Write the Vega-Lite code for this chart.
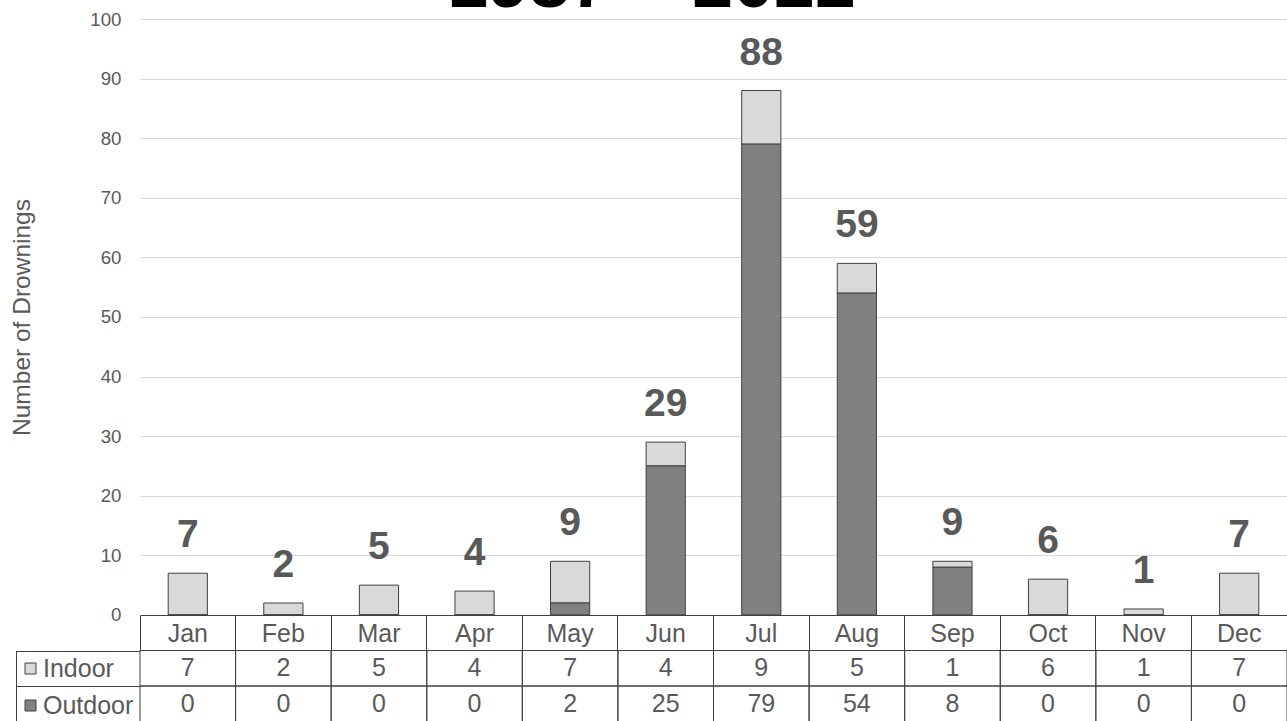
{
  "$schema": "https://vega.github.io/schema/vega-lite/v6.json",
  "width": 1147,
  "height": 702,
  "autosize": {"type": "none"},
  "padding": {"left": 140, "top": 19, "right": 0, "bottom": 0},
  "background": "white",
  "config": {"font": "Liberation Sans", "view": {"stroke": null}},
  "title": {"text": "1987 – 2022", "fontSize": 73.5, "fontWeight": "bold", "color": "#000000", "anchor": "middle", "frame": "group", "offset": -12, "dx": -62},
  "data": {
    "values": [
      {"month": "Jan", "type": "Indoor", "count": 7},
      {"month": "Feb", "type": "Indoor", "count": 2},
      {"month": "Mar", "type": "Indoor", "count": 5},
      {"month": "Apr", "type": "Indoor", "count": 4},
      {"month": "May", "type": "Indoor", "count": 7},
      {"month": "Jun", "type": "Indoor", "count": 4},
      {"month": "Jul", "type": "Indoor", "count": 9},
      {"month": "Aug", "type": "Indoor", "count": 5},
      {"month": "Sep", "type": "Indoor", "count": 1},
      {"month": "Oct", "type": "Indoor", "count": 6},
      {"month": "Nov", "type": "Indoor", "count": 1},
      {"month": "Dec", "type": "Indoor", "count": 7},
      {"month": "Jan", "type": "Outdoor", "count": 0},
      {"month": "Feb", "type": "Outdoor", "count": 0},
      {"month": "Mar", "type": "Outdoor", "count": 0},
      {"month": "Apr", "type": "Outdoor", "count": 0},
      {"month": "May", "type": "Outdoor", "count": 2},
      {"month": "Jun", "type": "Outdoor", "count": 25},
      {"month": "Jul", "type": "Outdoor", "count": 79},
      {"month": "Aug", "type": "Outdoor", "count": 54},
      {"month": "Sep", "type": "Outdoor", "count": 8},
      {"month": "Oct", "type": "Outdoor", "count": 0},
      {"month": "Nov", "type": "Outdoor", "count": 0},
      {"month": "Dec", "type": "Outdoor", "count": 0}
    ]
  },
  "layer": [
    {
      "mark": {"type": "bar", "width": {"band": 0.41}, "stroke": "#404040", "strokeWidth": 1},
      "encoding": {
        "x": {
          "field": "month", "type": "nominal",
          "scale": {"domain": ["Jan","Feb","Mar","Apr","May","Jun","Jul","Aug","Sep","Oct","Nov","Dec"], "paddingInner": 0, "paddingOuter": 0},
          "axis": {"orient": "bottom", "offset": -106, "title": null, "grid": false, "domainColor": "#404040", "domainWidth": 1, "ticks": true, "tickSize": 35.5, "tickColor": "#404040", "tickWidth": 1, "bandPosition": 0, "labelFontSize": 25, "labelColor": "#595959", "labelBaseline": "alphabetic", "labelPadding": -9.5, "labelAngle": 0}
        },
        "y": {
          "field": "count", "type": "quantitative",
          "scale": {"domain": [-17.8, 100], "nice": false, "zero": false},
          "axis": {"orient": "left", "values": [0,10,20,30,40,50,60,70,80,90,100], "grid": true, "gridColor": "#d9d9d9", "gridWidth": 1, "domain": false, "ticks": false, "labelFontSize": 18.67, "labelColor": "#595959", "labelPadding": 19, "title": "Number of Drownings", "titleFontSize": 24.5, "titleFontWeight": "normal", "titleColor": "#595959", "titleX": -110.5, "titleY": 298, "titleAngle": -90, "titleAlign": "center", "titleBaseline": "alphabetic"}
        },
        "color": {
          "field": "type", "type": "nominal",
          "scale": {"domain": ["Indoor", "Outdoor"], "range": ["#d9d9d9", "#808080"]},
          "legend": {"title": null, "orient": "none", "legendX": -122, "legendY": 637, "direction": "vertical", "symbolType": "square", "symbolSize": 121, "symbolStrokeColor": "#404040", "symbolStrokeWidth": 1, "labelFontSize": 25, "labelColor": "#595959", "labelOffset": 0, "rowPadding": 11, "padding": 0}
        },
        "order": {"field": "type", "sort": "descending"}
      }
    },
    {
      "transform": [{"aggregate": [{"op": "sum", "field": "count", "as": "total"}], "groupby": ["month"]}],
      "mark": {"type": "text", "fontSize": 39, "fontWeight": "bold", "color": "#595959", "baseline": "alphabetic", "dy": -26},
      "encoding": {
        "x": {"field": "month", "type": "nominal"},
        "y": {"field": "total", "type": "quantitative", "scale": {"domain": [-17.8, 100], "nice": false, "zero": false}, "axis": null},
        "text": {"field": "total", "type": "quantitative"}
      }
    },
    {
      "mark": {"type": "rect", "fill": "transparent", "stroke": "#404040", "strokeWidth": 1},
      "encoding": {
        "x": {"field": "month", "type": "nominal"},
        "y": {
          "field": "type", "type": "nominal",
          "scale": {"domain": ["Indoor", "Outdoor"], "range": [631.5, 702.5], "paddingInner": 0, "paddingOuter": 0},
          "axis": {"orient": "left", "offset": 124, "title": null, "labels": false, "grid": false, "domain": true, "domainColor": "#404040", "domainWidth": 1, "ticks": true, "tickBand": "extent", "tickSize": -124, "tickColor": "#404040", "tickWidth": 1}
        }
      }
    },
    {
      "mark": {"type": "text", "fontSize": 25, "color": "#595959", "baseline": "middle"},
      "encoding": {
        "x": {"field": "month", "type": "nominal"},
        "y": {"field": "type", "type": "nominal", "scale": {"domain": ["Indoor", "Outdoor"], "range": [631.5, 702.5], "paddingInner": 0, "paddingOuter": 0}, "axis": null},
        "text": {"field": "count", "type": "quantitative"}
      }
    }
  ],
  "resolve": {"scale": {"y": "independent"}, "axis": {"y": "independent"}}
}
